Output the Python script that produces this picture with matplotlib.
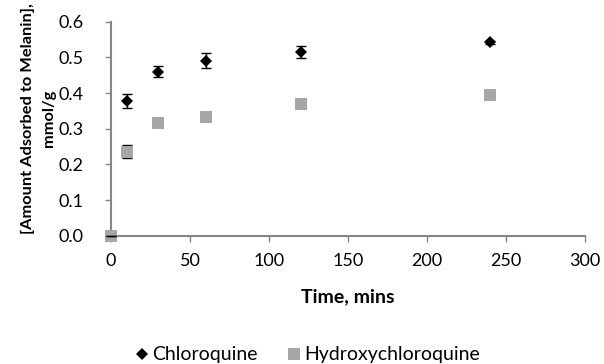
import matplotlib
matplotlib.use("Agg")
import matplotlib.pyplot as plt
from matplotlib.lines import Line2D

time = [0, 10, 30, 60, 120, 240]
chloroquine = [0.0, 0.378, 0.460, 0.491, 0.515, 0.542]
chloroquine_err = [0.0, 0.019, 0.016, 0.022, 0.018, 0.005]
hcq = [0.0, 0.235, 0.316, 0.333, 0.370, 0.394]
hcq_err = [0.0, 0.018, 0.005, 0.005, 0.005, 0.005]

plt.rcParams['font.family'] = ['Lato', 'DejaVu Sans']

fig = plt.figure(figsize=(6.04, 3.64), dpi=100)
ax = fig.add_axes([0.1838, 0.3525, 0.7847, 0.5879])

grey = '#A6A6A6'
axc = '#868686'

ax.errorbar(time, hcq, yerr=hcq_err, fmt='none', ecolor='black', elinewidth=1,
            capsize=3.5, capthick=1, zorder=2)
ax.plot(time, hcq, linestyle='none', marker='s', markersize=8, color=grey,
        markeredgewidth=0, zorder=3)
ax.errorbar(time, chloroquine, yerr=chloroquine_err, fmt='none', ecolor='black',
            elinewidth=1, capsize=3.5, capthick=1, zorder=4)
ax.plot(time[1:], chloroquine[1:], linestyle='none', marker='D', markersize=6.5,
        color='black', markeredgewidth=0, zorder=5)

ax.set_xlim(0, 300)
ax.set_ylim(0, 0.6)
ax.set_xticks([0, 50, 100, 150, 200, 250, 300])
ax.set_yticks([0.0, 0.1, 0.2, 0.3, 0.4, 0.5, 0.6])
ax.set_yticklabels(['0.0', '0.1', '0.2', '0.3', '0.4', '0.5', '0.6'])

for s in ['top', 'right']:
    ax.spines[s].set_visible(False)
for s in ['left', 'bottom']:
    ax.spines[s].set_color(axc)
    ax.spines[s].set_linewidth(1.5)
ax.tick_params(axis='both', colors=axc, labelcolor='black', labelsize=13,
               length=4.5, width=1, direction='out')
ax.tick_params(axis='x', pad=8)
ax.tick_params(axis='y', pad=15)

ax.set_xlabel('Time, mins', fontsize=14, fontweight='bold')
ax.xaxis.set_label_coords(0.5, -0.245)
ax.set_ylabel('[Amount Adsorbed to Melanin],\nmmol/g', fontsize=11.8,
              fontweight='bold', linespacing=1.6)
ax.yaxis.set_label_coords(-0.116, 0.548)
for art in ax.lines:
    art.set_clip_on(False)
for coll in ax.collections:
    coll.set_clip_on(False)

handles = [
    Line2D([], [], linestyle='none', marker='D', markersize=6.5, color='black', markeredgewidth=0),
    Line2D([], [], linestyle='none', marker='s', markersize=9, color=grey, markeredgewidth=0),
]
fig.legend(handles, ['Chloroquine', 'Hydroxychloroquine'], loc='center',
           bbox_to_anchor=(0.51, 0.025), ncol=2, frameon=False, fontsize=14,
           handlelength=0.6, handletextpad=0.25, columnspacing=1.55,
           borderpad=0, borderaxespad=0)

fig.savefig('out.png', dpi=100)
